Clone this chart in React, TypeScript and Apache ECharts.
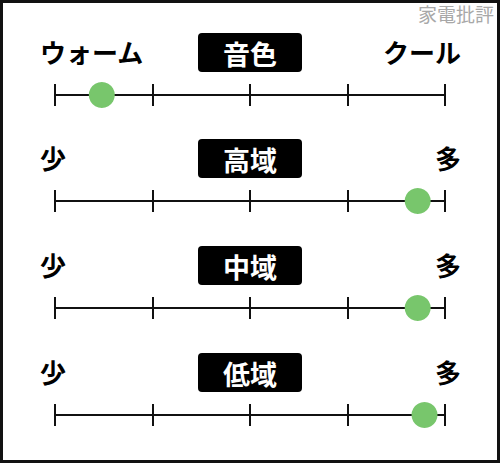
import { useEffect, useRef } from 'react';
import * as echarts from 'echarts';

type EChartsOption = echarts.EChartsOption;

// one row per scale
const rowTitles = ['音色', '高域', '中域', '低域'];
const leftLabels = ['ウォーム', '少', '少', '少'];
const rightLabels = ['クール', '多', '多', '多'];
const scores = [0.48, 3.72, 3.72, 3.79];
const scaleMin = 0;
const scaleMax = 4;
const watermark = '家電批評';

const rowY = [95, 201, 308, 415];
const FONT = '"Noto Sans CJK JP", "Noto Sans", sans-serif';

const App = () => {
  const chartRef = useRef<HTMLDivElement>(null);

  useEffect(() => {
    if (!chartRef.current) return;
    const myChart = echarts.init(chartRef.current, null, { renderer: 'svg' });

    const grids: any[] = [];
    const xAxes: any[] = [];
    const yAxes: any[] = [];
    const series: any[] = [];
    const graphics: any[] = [];

    rowTitles.forEach((title, i) => {
      const y = rowY[i];
      grids.push({ left: 55, right: 55, top: y - 11, height: 22 });
      xAxes.push({
        type: 'value',
        gridIndex: i,
        min: scaleMin,
        max: scaleMax,
        interval: 1,
        axisLine: { show: true, onZero: true, lineStyle: { color: '#111', width: 2 } },
        axisTick: { show: false },
        axisLabel: { show: false },
        splitLine: { show: true, lineStyle: { color: '#111', width: 2 } },
      });
      yAxes.push({
        type: 'value',
        gridIndex: i,
        min: -1,
        max: 1,
        show: false,
        splitLine: { show: false },
      });
      series.push({
        type: 'scatter',
        xAxisIndex: i,
        yAxisIndex: i,
        data: [[scores[i], 0]],
        symbolSize: 26,
        itemStyle: { color: '#78c66c', opacity: 1 },
        z: 5,
      });

      graphics.push(
        {
          type: 'text',
          left: 40,
          top: y - 57,
          style: { text: leftLabels[i], fill: '#000', font: `bold 26px ${FONT}` },
        },
        {
          type: 'text',
          right: 39,
          top: y - 57,
          style: { text: rightLabels[i], fill: '#000', font: `bold 26px ${FONT}` },
        },
        {
          type: 'rect',
          shape: { x: 198, y: y - 62, width: 104, height: 39, r: 4 },
          style: { fill: '#000' },
        },
        {
          type: 'text',
          x: 250,
          y: y - 42,
          style: {
            text: title,
            fill: '#fff',
            font: `bold 27px ${FONT}`,
            align: 'center',
            verticalAlign: 'middle',
          },
        }
      );
    });

    graphics.push(
      {
        type: 'rect',
        shape: { x: 1.5, y: 1.5, width: 497, height: 460 },
        style: { fill: 'none', stroke: '#111', lineWidth: 3 },
      },
      {
        type: 'text',
        right: 6,
        top: 4,
        style: { text: watermark, fill: '#a8a8a8', font: `19px ${FONT}` },
      }
    );

    const option: EChartsOption = {
      animation: false,
      backgroundColor: '#fff',
      grid: grids,
      xAxis: xAxes,
      yAxis: yAxes,
      series,
      graphic: graphics,
    };

    myChart.setOption(option);

    return () => {
      myChart.dispose();
    };
  }, []);

  return (
    <div
      ref={chartRef}
      style={{ position: 'absolute', left: 0, top: 0, width: '500px', height: '463px' }}
    />
  );
};

export default App;
